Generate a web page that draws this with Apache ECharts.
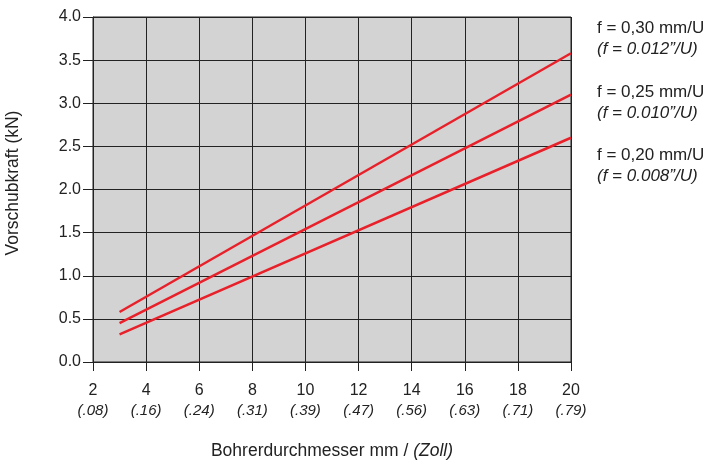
<!DOCTYPE html>
<html><head><meta charset="utf-8">
<script src="https://cdn.jsdelivr.net/npm/echarts@6/dist/echarts.min.js"></script>
<style>html,body{margin:0;padding:0;background:#fff}#c{width:709px;height:465px}</style>
</head><body><div id="c"></div>
<script>
var xTicks = [2, 4, 6, 8, 10, 12, 14, 16, 18, 20];
var inchLabels = ['(.08)', '(.16)', '(.24)', '(.31)', '(.39)', '(.47)', '(.56)', '(.63)', '(.71)', '(.79)'];
var diameters = [3, 20];
var force030 = [0.58, 3.58];
var force025 = [0.45, 3.10];
var force020 = [0.32, 2.60];
var legendMain = ['f = 0,30 mm/U', 'f = 0,25 mm/U', 'f = 0,20 mm/U'];
var legendSub = ['(f = 0.012\u201D/U)', '(f = 0.010\u201D/U)', '(f = 0.008\u201D/U)'];
var yTitle = 'Vorschubkraft (kN)';

var FONT = 'Liberation Sans, Arial, sans-serif';
var RED = '#e8202a';
function pts(ys){ return diameters.map(function(x,i){ return [x, ys[i]]; }); }
function lineSeries(ys){
  return { type:'line', data: pts(ys), symbol:'none', silent:true,
    lineStyle:{ color: RED, width: 2.5 }, animation:false };
}
var chart = echarts.init(document.getElementById('c'));
var graphics = [];
var legendY = [20, 84, 147];
for (var i=0;i<3;i++){
  graphics.push({ type:'text', left:597, top:legendY[i],
    style:{ text: legendMain[i], font: '17px ' + FONT, fill:'#222' }});
  graphics.push({ type:'text', left:597, top:legendY[i]+21,
    style:{ text: legendSub[i], font: 'italic 17px ' + FONT, fill:'#222' }});
}
graphics.push({ type:'text', x:13, y:183, rotation:Math.PI/2,
  style:{ text: yTitle, font:'17.5px ' + FONT, fill:'#222', align:'center', verticalAlign:'middle' }});
chart.setOption({
  animation:false,
  backgroundColor:'#ffffff',
  grid:{ left:93, right:138, top:17, bottom:102, show:true, backgroundColor:'#d3d3d3', borderColor:'#222', borderWidth:1 },
  xAxis:{ type:'value', min:2, max:20, interval:2,
    name:'Bohrerdurchmesser mm / {i|(Zoll)}', nameLocation:'middle', nameGap:80,
    nameTextStyle:{ fontFamily:FONT, fontSize:17.5, color:'#222',
      rich:{ i:{ fontFamily:FONT, fontSize:17.5, fontStyle:'italic', color:'#222' } } },
    axisLine:{ lineStyle:{ color:'#222', width:1 } },
    axisTick:{ show:true, length:9, lineStyle:{ color:'#222' } },
    splitLine:{ show:true, lineStyle:{ color:'#222', width:1 } },
    axisLabel:{ margin:19, color:'#222', fontFamily:FONT, fontSize:16, lineHeight:20,
      formatter:function(v){ var k = xTicks.indexOf(v); return v + '\n{i|' + inchLabels[k] + '}'; },
      rich:{ i:{ fontFamily:FONT, fontSize:15, fontStyle:'italic', color:'#222', lineHeight:20 } } }
  },
  yAxis:{ type:'value', min:0, max:4, interval:0.5,
    axisLine:{ show:true, lineStyle:{ color:'#222', width:1 } },
    axisTick:{ show:true, length:10, lineStyle:{ color:'#222' } },
    splitLine:{ show:true, lineStyle:{ color:'#222', width:1 } },
    axisLabel:{ margin:12, color:'#222', fontFamily:FONT, fontSize:16,
      formatter:function(v){ return v.toFixed(1); } }
  },
  series:[ lineSeries(force030), lineSeries(force025), lineSeries(force020) ],
  graphic: graphics
});
</script></body></html>
